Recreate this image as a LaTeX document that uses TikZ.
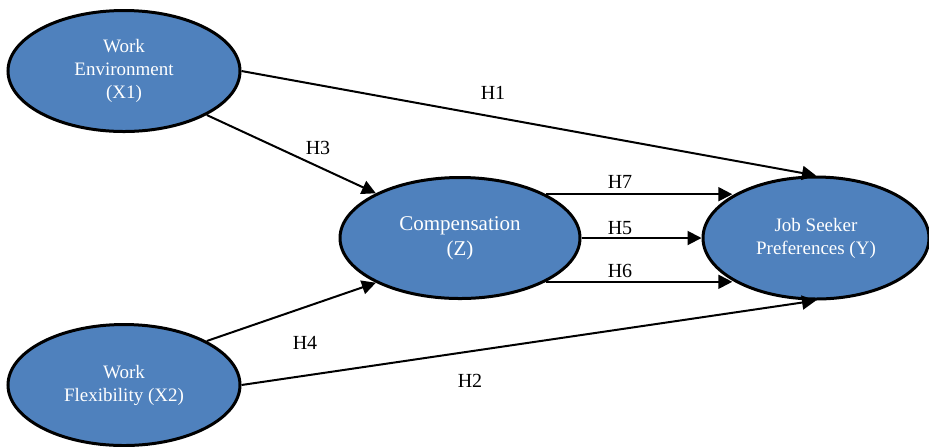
\documentclass[tikz,border=0pt]{standalone}
\usepackage{fontspec}
\setmainfont{Liberation Serif}
\usepackage{tikz}
\usetikzlibrary{shapes.geometric, positioning, arrows.meta}
\definecolor{varblue}{RGB}{79,129,189}

\begin{document}
\begin{tikzpicture}[x=0.5pt, y=-0.5pt,
        var/.style={ellipse, draw, line width=1.5pt, fill=varblue, text=white, align=center,
            inner sep=0pt, font=\fontsize{9.5}{11.5}\selectfont},
        hyp/.style={font=\fontsize{10}{12}\selectfont, inner sep=0pt},
        path/.style={-{Triangle[length=7pt, width=7pt]}, line width=1pt}]
        \useasboundingbox (0,0) rectangle (929,446);

        \node (x1) [var, minimum width=116pt, minimum height=60.5pt] at (124,71) {Work\\Environment\\(X1)};
        \node (x2) [var, minimum width=116pt, minimum height=60.5pt] at (124,385) {Work\\Flexibility (X2)};
        \node (z) [var, minimum width=120pt, minimum height=60.5pt, font=\fontsize{10.5}{12.5}\selectfont] at (460,238) {Compensation\\(Z)};
        \node (y) [var, minimum width=113pt, minimum height=61pt] at (816,238) {Job Seeker\\Preferences (Y)};

        \draw[path] (x1.east) -- (y.north);
        \draw[path] (x1.-28) -- (z.152);
        \draw[path] (x2.28) -- (z.208);
        \draw[path] (x2.east) -- (y.south);
        \draw[path] (z.27) -- (z.27 -| y.153);
        \draw[path] (z.east) -- (y.west);
        \draw[path] (z.-27) -- (z.-27 -| y.207);

        \node (h1) [hyp] at (493,93) {H1};
        \node (h2) [hyp] at (470,381) {H2};
        \node (h3) [hyp] at (318,148) {H3};
        \node (h4) [hyp] at (305,343) {H4};
        \node (h5) [hyp] at (620,228) {H5};
        \node (h6) [hyp] at (620,271) {H6};
        \node (h7) [hyp] at (620,182) {H7};
    \end{tikzpicture}
\end{document}
